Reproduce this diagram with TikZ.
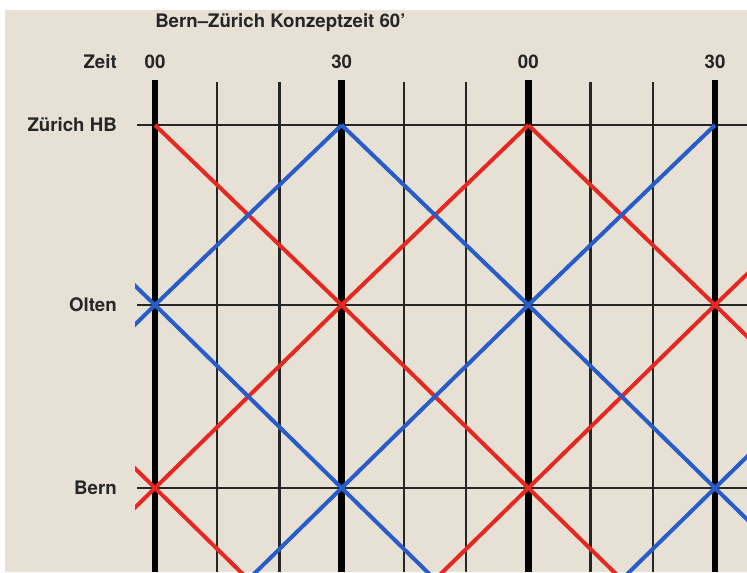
\documentclass[tikz,border=0pt]{standalone}
\usepackage{fontspec}
\setsansfont{TeX Gyre Heros}
\usetikzlibrary{positioning}
\definecolor{paper}{RGB}{231,225,213}
\definecolor{trainred}{RGB}{230,40,32}
\definecolor{trainblue}{RGB}{40,92,200}
\definecolor{ink}{RGB}{38,38,38}
\tikzset{
  label text/.style={font=\sffamily\bfseries\fontsize{14}{16}\selectfont, text=ink, inner sep=0pt},
  major line/.style={line width=4.8pt, black},
  minor line/.style={line width=1.6pt, ink},
  station line/.style={line width=1.5pt, ink},
  red train/.style={line width=3pt, trainred},
  blue train/.style={line width=3pt, trainblue}
}

\begin{document}
\begin{tikzpicture}[x=0.75pt, y=-0.75pt]
    % Paper
    \useasboundingbox[fill=white] (0,0) rectangle (747,572);
    \fill[paper] (5,10) rectangle (747,572);

    % Stations
    \foreach \y in {125, 305, 488}
        \draw[station line] (137,\y) -- (747,\y);

    % Time grid (one minute = 6.222 px)
    \begin{scope}[shift={(155,0)}, x=4.6667pt]
        \foreach \t/\n in {-30/m30, 0/0, 30/30, 60/60, 90/90, 120/120}
            \foreach \s/\y in {zh/125, ol/305, be/488, un/671}
                \coordinate (\s-\n) at (\t,\y);

        % 10-minute lines
        \foreach \t in {10,20,40,50,70,80}
            \draw[minor line] (\t,82) -- (\t,572);
        % half hours
        \foreach \t in {0,30,60,90}
            \draw[major line] (\t,80) -- (\t,572);
    \end{scope}

    % Trains
    \begin{scope}
        \clip (135,10) rectangle (747,572);
        % red
        \draw[red train] (ol-m30) -- (be-0) -- (un-30);
        \draw[red train] (un-m30) -- (be-0) -- (ol-30) -- (zh-60);
        \draw[red train] (zh-0) -- (ol-30) -- (be-60) -- (un-90);
        \draw[red train] (un-30) -- (be-60) -- (ol-90) -- (zh-120);
        \draw[red train] (zh-60) -- (ol-90) -- (be-120);
        % blue
        \draw[blue train] (zh-m30) -- (ol-0) -- (be-30) -- (un-60);
        \draw[blue train] (be-m30) -- (ol-0) -- (zh-30);
        \draw[blue train] (zh-30) -- (ol-60) -- (be-90) -- (un-120);
        \draw[blue train] (un-0) -- (be-30) -- (ol-60) -- (zh-90);
        \draw[blue train] (un-60) -- (be-90) -- (ol-120);
    \end{scope}

    % Labels
    \node[label text, anchor=west] (title) at (155,23) {Bern–Zürich Konzeptzeit 60’};
    \node[label text, anchor=east] (zeit) at (117,62) {Zeit};
    \node[label text] (h00a) at (155,62) {00};
    \node[label text] (h30a) at (341.7,62) {30};
    \node[label text] (h00b) at (528.3,62) {00};
    \node[label text] (h30b) at (715,62) {30};
    \node[label text, anchor=east] (zuerich) at (117,125) {Zürich HB};
    \node[label text, anchor=east] (olten) at (117,305) {Olten};
    \node[label text, anchor=east] (bern) at (117,488) {Bern};
\end{tikzpicture}
\end{document}
